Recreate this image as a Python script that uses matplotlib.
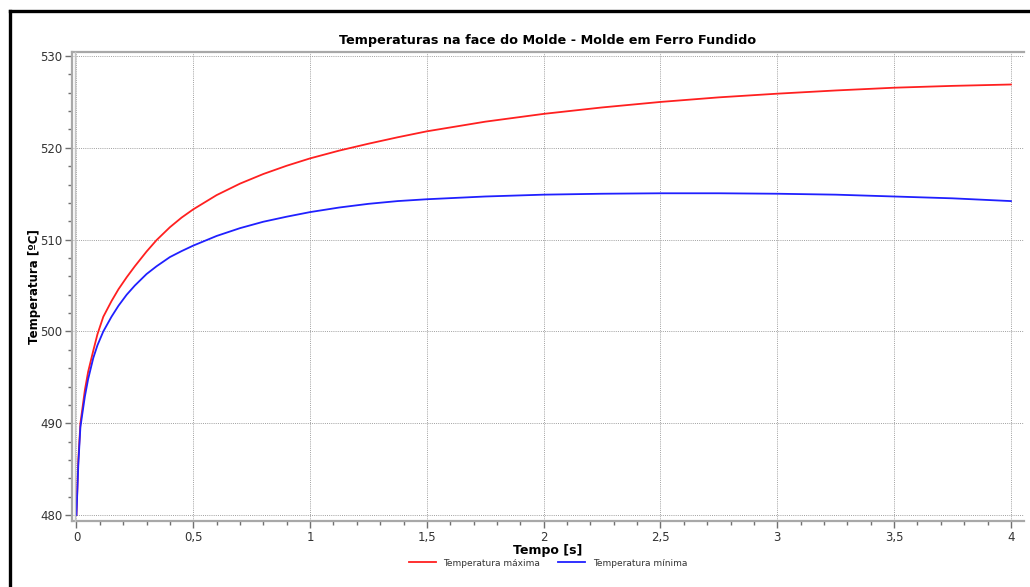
import matplotlib
matplotlib.use("Agg")
import matplotlib.pyplot as plt
from matplotlib.lines import Line2D
from matplotlib.ticker import MultipleLocator, FuncFormatter

plt.rcParams['font.family'] = ['DejaVu Sans']

# Simulated mould-face temperatures over time
tempo = [0, 0.008, 0.017, 0.036, 0.05, 0.072, 0.09, 0.115, 0.15, 0.18, 0.215,
         0.25, 0.3, 0.343, 0.4, 0.45, 0.5, 0.6, 0.7, 0.8, 0.9, 1.0, 1.125, 1.25,
         1.375, 1.5, 1.75, 2.0, 2.25, 2.5, 2.75, 3.0, 3.25, 3.5, 3.75, 4.0]
temp_max = [480, 486.0, 490.0, 493.6, 495.6, 497.9, 499.7, 501.6, 503.3, 504.6,
            505.9, 507.1, 508.7, 509.95, 511.35, 512.4, 513.3, 514.85, 516.1,
            517.15, 518.05, 518.85, 519.7, 520.45, 521.15, 521.8, 522.85, 523.7,
            524.4, 525.0, 525.5, 525.9, 526.25, 526.55, 526.75, 526.9]
temp_min = [480, 485.5, 489.6, 492.9, 494.8, 497.1, 498.5, 500.0, 501.6, 502.8,
            504.0, 505.0, 506.25, 507.1, 508.1, 508.75, 509.35, 510.4, 511.25,
            511.95, 512.5, 513.0, 513.5, 513.9, 514.2, 514.4, 514.7, 514.9,
            515.0, 515.05, 515.05, 515.0, 514.9, 514.7, 514.5, 514.2]

W, H = 1030, 587
fig = plt.figure(figsize=(W / 100, H / 100), dpi=100)

# outer frame (top and left edges)
fig.add_artist(Line2D([10 / W, 1.0], [1 - 11 / H, 1 - 11 / H], color='black', lw=2.4,
                      transform=fig.transFigure))
fig.add_artist(Line2D([10 / W, 10 / W], [0, 1 - 11 / H], color='black', lw=2.4,
                      transform=fig.transFigure))

left, right, top, bottom = 72, 1024, 52, 521
ax = fig.add_axes([left / W, 1 - bottom / H, (right - left) / W, (bottom - top) / H])

# second inner rule beside the left axis line
fig.add_artist(Line2D([(left + 3) / W, (left + 3) / W], [1 - bottom / H, 1 - top / H],
                      color='#c4c4c4', lw=1.0, transform=fig.transFigure))

ax.plot(tempo, temp_max, color='#ff2020', lw=1.3, label='Temperatura máxima')
ax.plot(tempo, temp_min, color='#2020ff', lw=1.3, label='Temperatura mínima')

ax.set_xlim(-0.019, 4.056)
ax.set_ylim(479.35, 530.44)

ax.xaxis.set_major_locator(MultipleLocator(0.5))
ax.xaxis.set_minor_locator(MultipleLocator(0.1))
ax.yaxis.set_major_locator(MultipleLocator(10))
ax.yaxis.set_minor_locator(MultipleLocator(2))
ax.xaxis.set_major_formatter(FuncFormatter(lambda v, p: f"{v:g}".replace('.', ',')))
ax.yaxis.set_major_formatter(FuncFormatter(lambda v, p: f"{v:g}"))

ax.grid(True, which='major', color='#a0a0a0', linestyle=(0, (1, 1.2)), lw=0.7)

ax.spines['right'].set_visible(False)
for s in ['left', 'top', 'bottom']:
    ax.spines[s].set_color('#a8a8a8')
    ax.spines[s].set_linewidth(1.6)

ax.tick_params(axis='both', which='major', length=5, width=1, color='#707070',
               labelsize=8.5, labelcolor='#333333', pad=2)
ax.tick_params(axis='both', which='minor', length=3, width=1, color='#707070')

ax.set_title('Temperaturas na face do Molde - Molde em Ferro Fundido',
             fontsize=9.2, fontweight='bold', pad=6)
ax.set_xlabel('Tempo [s]', fontsize=9, fontweight='bold', labelpad=0)
ax.set_ylabel('Temperatura [ºC]', fontsize=8.5, fontweight='bold', labelpad=-1)

leg = fig.legend(loc='center', bbox_to_anchor=(548 / W, 1 - 563 / H), ncol=2,
                 frameon=False, fontsize=6.5, handlelength=3, columnspacing=2,
                 handletextpad=0.8)
for t in leg.get_texts():
    t.set_color('#333333')

fig.savefig('out.png', dpi=100)
